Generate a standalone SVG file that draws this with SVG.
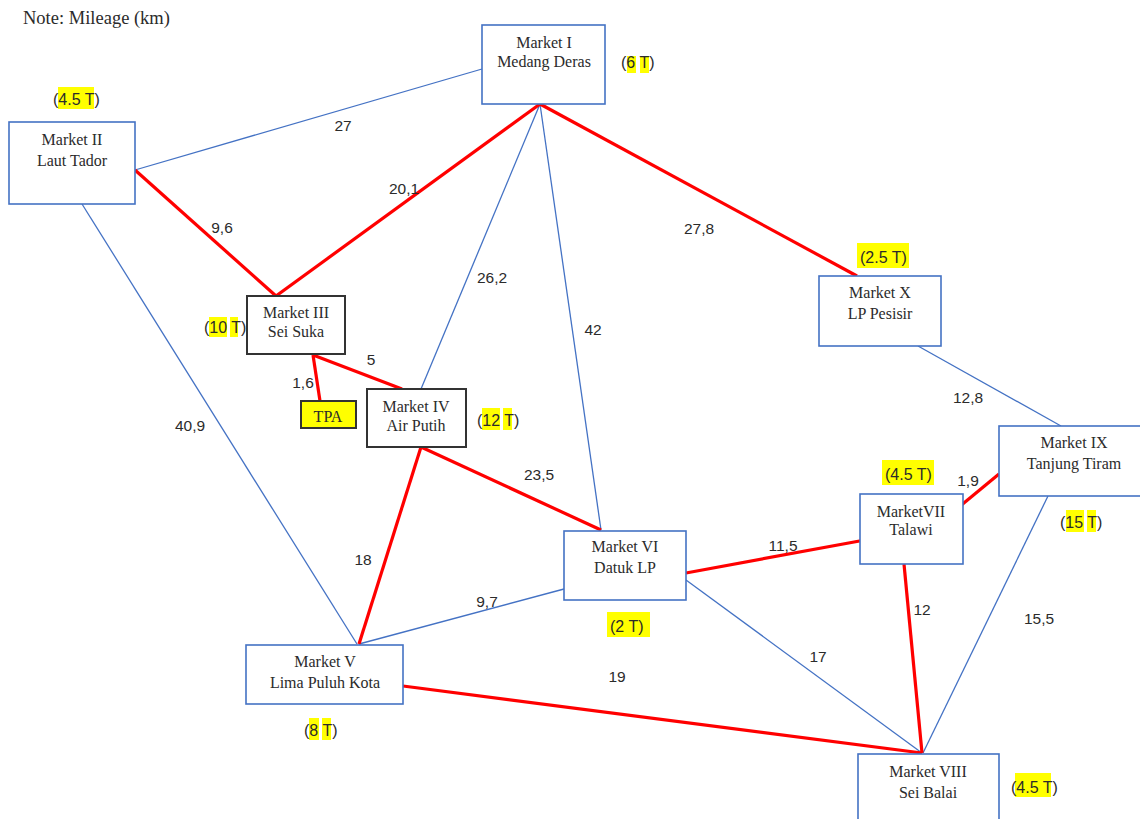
<svg xmlns="http://www.w3.org/2000/svg" width="1140" height="819" viewBox="0 0 1140 819">
<style>
.blue{stroke:#4472C4;stroke-width:1.3;fill:none}
.red{stroke:#FF0000;stroke-width:3.2;fill:none}
.box{fill:#fff;stroke:#4472C4;stroke-width:1.6}
.bbox{fill:#fff;stroke:#333;stroke-width:2}
.nt{font-family:"Liberation Serif",serif;font-size:16px;fill:#2b2b2b;text-anchor:middle}
.el{font-family:"Liberation Sans",Arial,sans-serif;font-size:15.5px;fill:#2b2b2b;text-anchor:middle}
.cap{font-family:"Liberation Sans",Arial,sans-serif;font-size:16px;fill:#2b2b2b}
.hl{fill:#FFFF00}
</style>
<rect width="1140" height="819" fill="#fff"/>
<text x="23" y="24" font-family="Liberation Serif,serif" font-size="18.5" fill="#2b2b2b">Note: Mileage (km)</text>
<g id="connectors">
<line class="blue" x1="482" y1="69" x2="135" y2="170"/>
<line class="blue" x1="540" y1="104" x2="421" y2="389"/>
<line class="blue" x1="540" y1="104" x2="601" y2="530"/>
<line class="blue" x1="82" y1="204" x2="357" y2="644"/>
<line class="blue" x1="359" y1="644" x2="564" y2="589"/>
<line class="blue" x1="918" y1="346" x2="1061" y2="426"/>
<line class="blue" x1="686" y1="580" x2="922" y2="753"/>
<line class="blue" x1="1048" y1="496" x2="923" y2="753"/>
<line class="red" x1="540" y1="104" x2="276" y2="296"/>
<line class="red" x1="540" y1="104" x2="857" y2="276"/>
<line class="red" x1="135" y1="170" x2="276" y2="296"/>
<line class="red" x1="313" y1="355" x2="320" y2="401"/>
<line class="red" x1="313" y1="355" x2="402" y2="389"/>
<line class="red" x1="421" y1="447" x2="601" y2="530"/>
<line class="red" x1="421" y1="447" x2="359" y2="644"/>
<line class="red" x1="686" y1="573" x2="865" y2="540"/>
<line class="red" x1="953" y1="512" x2="999" y2="474"/>
<line class="red" x1="904" y1="564" x2="922" y2="753"/>
<line class="red" x1="403" y1="686" x2="922" y2="753"/>
<text class="el" x="343" y="131">27</text>
<text class="el" x="404" y="194">20,1</text>
<text class="el" x="222" y="233">9,6</text>
<text class="el" x="699" y="234">27,8</text>
<text class="el" x="492" y="283">26,2</text>
<text class="el" x="593" y="335">42</text>
<text class="el" x="190" y="431">40,9</text>
<text class="el" x="371" y="365">5</text>
<text class="el" x="303" y="388">1,6</text>
<text class="el" x="539" y="480">23,5</text>
<text class="el" x="363" y="565">18</text>
<text class="el" x="487" y="607">9,7</text>
<text class="el" x="617" y="682">19</text>
<text class="el" x="783" y="551">11,5</text>
<text class="el" x="968" y="403">12,8</text>
<text class="el" x="968" y="486">1,9</text>
<text class="el" x="922" y="615">12</text>
<text class="el" x="818" y="662">17</text>
<text class="el" x="1039" y="624">15,5</text>
</g>
<g id="market-I">
<rect class="box" x="482" y="25" width="123" height="79"/>
<text class="nt" x="544" y="48">Market I</text>
<text class="nt" x="544" y="67">Medang Deras</text>
<rect class="hl" x="627" y="56" width="9" height="17"/><rect class="hl" x="640" y="56" width="9" height="17"/>
<text class="cap" x="621" y="68">(6 T)</text>
</g>
<g id="market-II">
<rect class="box" x="9" y="122" width="126" height="82"/>
<text class="nt" x="72" y="145">Market II</text>
<text class="nt" x="72" y="166">Laut Tador</text>
<rect class="hl" x="58" y="87" width="36" height="22"/>
<text class="cap" x="53" y="105">(4.5 T)</text>
</g>
<g id="market-III">
<rect class="bbox" x="247" y="296" width="98" height="58"/>
<text class="nt" x="296" y="318">Market III</text>
<text class="nt" x="296" y="337">Sei Suka</text>
<rect class="hl" x="209" y="317" width="18" height="20"/><rect class="hl" x="230" y="317" width="8" height="20"/>
<text class="cap" x="204" y="333">(10 T)</text>
</g>
<g id="tpa">
<rect x="301" y="401" width="55" height="27" fill="#FFFF00" stroke="#333" stroke-width="2"/>
<text class="nt" x="328" y="422">TPA</text>
</g>
<g id="market-IV">
<rect class="bbox" x="367" y="389" width="99" height="58"/>
<text class="nt" x="416" y="412">Market IV</text>
<text class="nt" x="416" y="431">Air Putih</text>
<rect class="hl" x="482" y="408" width="18" height="22"/><rect class="hl" x="503" y="408" width="9" height="22"/>
<text class="cap" x="477" y="426">(12 T)</text>
</g>
<g id="market-V">
<rect class="box" x="246" y="645" width="157" height="59"/>
<text class="nt" x="325" y="667">Market V</text>
<text class="nt" x="325" y="688">Lima Puluh Kota</text>
<rect class="hl" x="309" y="718" width="10" height="22"/><rect class="hl" x="322" y="718" width="9" height="22"/>
<text class="cap" x="304" y="736">(8 T)</text>
</g>
<g id="market-VI">
<rect class="box" x="564" y="531" width="122" height="69"/>
<text class="nt" x="625" y="552">Market VI</text>
<text class="nt" x="625" y="573">Datuk LP</text>
<rect class="hl" x="607" y="612" width="43" height="25"/>
<text class="cap" x="610" y="632">(2 T)</text>
</g>
<g id="market-VII">
<rect class="box" x="860" y="494" width="103" height="70"/>
<text class="nt" x="911" y="517">MarketVII</text>
<text class="nt" x="911" y="535">Talawi</text>
<rect class="hl" x="882" y="460" width="52" height="25"/>
<text class="cap" x="885" y="480">(4.5 T)</text>
</g>
<g id="market-VIII">
<rect class="box" x="858" y="754" width="141" height="80"/>
<text class="nt" x="928" y="777">Market VIII</text>
<text class="nt" x="928" y="798">Sei Balai</text>
<rect class="hl" x="1015" y="773" width="36" height="24"/>
<text class="cap" x="1011" y="793">(4.5 T)</text>
</g>
<g id="market-IX">
<rect class="box" x="999" y="426" width="152" height="70"/>
<text class="nt" x="1074" y="448">Market IX</text>
<text class="nt" x="1074" y="469">Tanjung Tiram</text>
<rect class="hl" x="1066" y="510" width="18" height="22"/><rect class="hl" x="1087" y="510" width="9" height="22"/>
<text class="cap" x="1060" y="528">(15 T)</text>
</g>
<g id="market-X">
<rect class="box" x="819" y="276" width="122" height="70"/>
<text class="nt" x="880" y="298">Market X</text>
<text class="nt" x="880" y="319">LP Pesisir</text>
<rect class="hl" x="857" y="243" width="52" height="25"/>
<text class="cap" x="860" y="263">(2.5 T)</text>
</g>
</svg>
